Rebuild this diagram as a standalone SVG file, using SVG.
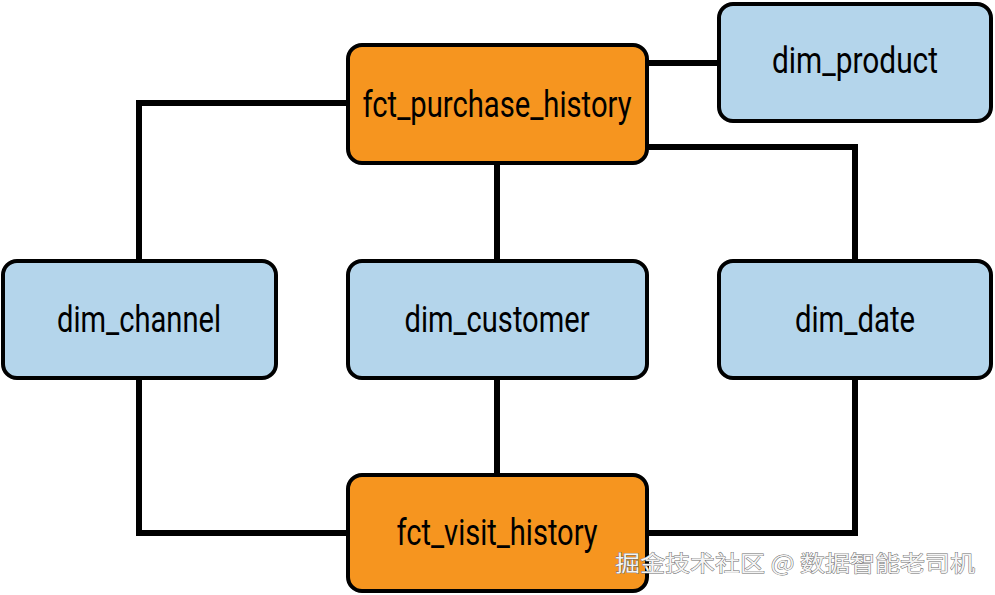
<svg xmlns="http://www.w3.org/2000/svg" width="995" height="595" viewBox="0 0 995 595">
<style>
.fct{fill:#F6951F;stroke:#000;stroke-width:4}
.dim{fill:#B4D5EB;stroke:#000;stroke-width:4}
.lbl{font-family:"Liberation Sans Narrow","Roboto","Liberation Sans",sans-serif;font-size:37px;fill:#000;text-anchor:middle}
.conn{fill:none;stroke:#000;stroke-width:6}
.wm{font-family:"Noto Sans CJK SC","Liberation Sans",sans-serif;font-size:22px;fill:#f4f4f4;stroke:#6a6a6a;stroke-width:0.9;paint-order:stroke}
</style>
<rect width="995" height="595" fill="#fff"/>
<g id="connectors">
<path class="conn" d="M347,103 H139 V260"/>
<path class="conn" d="M647,63 H718"/>
<path class="conn" d="M647,147 H855 V260"/>
<path class="conn" d="M497,164 V260"/>
<path class="conn" d="M139,379 V533 H347"/>
<path class="conn" d="M497,379 V474"/>
<path class="conn" d="M855,379 V533 H647"/>
</g>
<g id="fct_purchase_history">
<rect class="fct" x="348" y="45" width="299" height="118" rx="14"/>
<text class="lbl" x="497" y="117" textLength="269" lengthAdjust="spacingAndGlyphs">fct_purchase_history</text>
</g>
<g id="dim_product">
<rect class="dim" x="719" y="4" width="272" height="117" rx="14"/>
<text class="lbl" x="855" y="73" textLength="166" lengthAdjust="spacingAndGlyphs">dim_product</text>
</g>
<g id="dim_channel">
<rect class="dim" x="3" y="261" width="273" height="117" rx="14"/>
<text class="lbl" x="139" y="332" textLength="164" lengthAdjust="spacingAndGlyphs">dim_channel</text>
</g>
<g id="dim_customer">
<rect class="dim" x="348" y="261" width="299" height="117" rx="14"/>
<text class="lbl" x="497" y="332" textLength="185" lengthAdjust="spacingAndGlyphs">dim_customer</text>
</g>
<g id="dim_date">
<rect class="dim" x="719" y="261" width="272" height="117" rx="14"/>
<text class="lbl" x="855" y="332" textLength="120" lengthAdjust="spacingAndGlyphs">dim_date</text>
</g>
<g id="fct_visit_history">
<rect class="fct" x="348" y="475" width="299" height="116" rx="14"/>
<text class="lbl" x="497" y="545" textLength="201" lengthAdjust="spacingAndGlyphs">fct_visit_history</text>
</g>
<text class="wm" x="615" y="571" textLength="360" lengthAdjust="spacingAndGlyphs">掘金技术社区 @ 数据智能老司机</text>
</svg>
